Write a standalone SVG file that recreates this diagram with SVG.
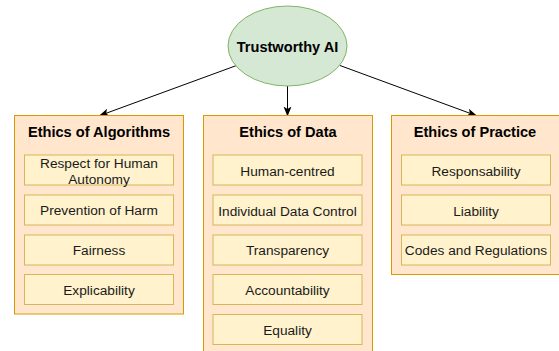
<svg xmlns="http://www.w3.org/2000/svg" width="559" height="351" viewBox="0 0 559 351">
<defs>
<style>
.cont{fill:#ffe6cc;stroke:#d79b00;stroke-width:1}
.item{fill:#fff2cc;stroke:#d6b656;stroke-width:1}
.t{font-family:"Liberation Sans",Arial,sans-serif;font-size:13.7px;fill:#1a1a1a;text-anchor:middle;dominant-baseline:central}
.b{font-family:"Liberation Sans",Arial,sans-serif;font-size:14.6px;font-weight:bold;fill:#000;text-anchor:middle;dominant-baseline:central}
.edge{stroke:#000;stroke-width:1;fill:none;marker-end:url(#arr)}
</style>
<marker id="arr" viewBox="0 0 10 10" refX="9" refY="5" markerWidth="10" markerHeight="10" markerUnits="userSpaceOnUse" orient="auto">
<path d="M0,1 L10,5 L0,9 L2.5,5 Z" fill="#000"/>
</marker>
</defs>
<g id="connectors">
<line class="edge" x1="236" y1="65.7" x2="100" y2="115.5"/>
<line class="edge" x1="287.5" y1="86" x2="287.5" y2="115.5"/>
<line class="edge" x1="340" y1="65.5" x2="476" y2="115.5"/>
</g>
<g id="trustworthy-ai">
<ellipse cx="287.5" cy="46" rx="59.5" ry="40" fill="#d5e8d4" stroke="#82b366"/>
<text class="b" x="287.5" y="46.5">Trustworthy AI</text>
</g>
<g id="ethics-algorithms">
<rect class="cont" x="14.5" y="115.5" width="169" height="198.5"/>
<text class="b" x="99" y="132">Ethics of Algorithms</text>
<g id="alg-respect"><rect class="item" x="24.5" y="155" width="149" height="30"/><text class="t" x="99" y="163">Respect for Human</text><text class="t" x="99" y="179">Autonomy</text></g>
<g id="alg-harm"><rect class="item" x="24.5" y="195" width="149" height="30"/><text class="t" x="99" y="210">Prevention of Harm</text></g>
<g id="alg-fairness"><rect class="item" x="24.5" y="235" width="149" height="30"/><text class="t" x="99" y="250">Fairness</text></g>
<g id="alg-explicability"><rect class="item" x="24.5" y="274.5" width="149" height="30"/><text class="t" x="99" y="290">Explicability</text></g>
</g>
<g id="ethics-data">
<rect class="cont" x="203.5" y="115.5" width="169" height="245"/>
<text class="b" x="288" y="132">Ethics of Data</text>
<g id="data-human"><rect class="item" x="213" y="155" width="149" height="30"/><text class="t" x="287.5" y="171">Human-centred</text></g>
<g id="data-control"><rect class="item" x="213" y="195" width="149" height="30"/><text class="t" x="287.5" y="211">Individual Data Control</text></g>
<g id="data-transparency"><rect class="item" x="213" y="235" width="149" height="30"/><text class="t" x="287.5" y="250">Transparency</text></g>
<g id="data-accountability"><rect class="item" x="213" y="274.5" width="149" height="30"/><text class="t" x="287.5" y="290">Accountability</text></g>
<g id="data-equality"><rect class="item" x="213" y="314.5" width="149" height="30"/><text class="t" x="287.5" y="330">Equality</text></g>
</g>
<g id="ethics-practice">
<rect class="cont" x="391.5" y="115.5" width="168" height="159"/>
<text class="b" x="475" y="132">Ethics of Practice</text>
<g id="prac-resp"><rect class="item" x="401.5" y="155" width="149" height="30"/><text class="t" x="476" y="171">Responsability</text></g>
<g id="prac-liability"><rect class="item" x="401.5" y="195" width="149" height="30"/><text class="t" x="476" y="211">Liability</text></g>
<g id="prac-codes"><rect class="item" x="401.5" y="235" width="149" height="30"/><text class="t" x="476" y="250">Codes and Regulations</text></g>
</g>
</svg>
